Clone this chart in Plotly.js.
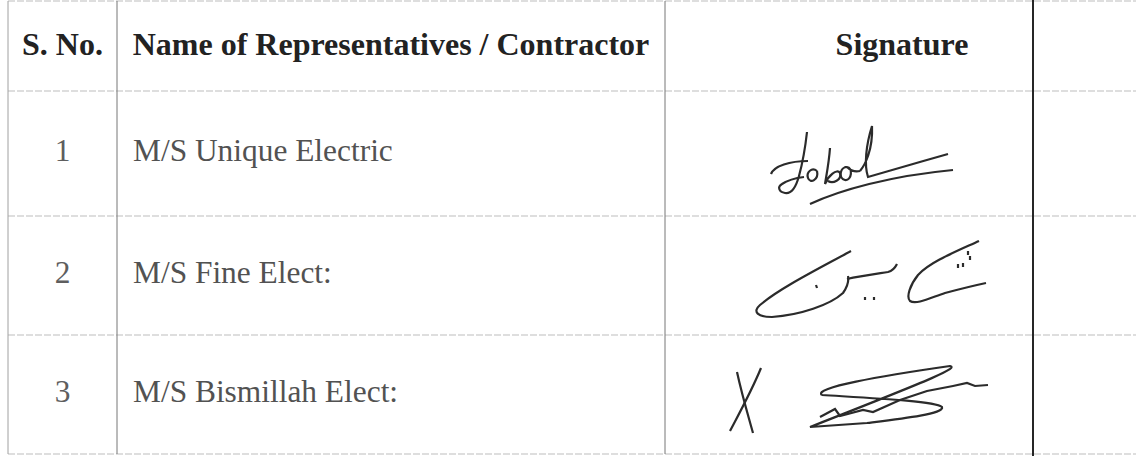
<!DOCTYPE html>
<html><head><meta charset="utf-8">
<script src="https://cdn.plot.ly/plotly-3.0.1.min.js"></script>
<style>html,body{margin:0;padding:0;background:#fff;} #chart{width:1136px;height:456px;}</style>
</head><body><div id="chart"></div>
<script>
// ---- table content ----
const headers = ['S. No.', 'Name of Representatives / Contractor', 'Signature'];
const serialNos = ['1', '2', '3'];
const contractors = ['M/S Unique Electric', 'M/S Fine Elect:', 'M/S Bismillah Elect:'];

// ---- layout geometry (pixels) ----
const colEdges = [8, 117, 665, 1033];
const rowEdges = [1, 91, 216, 335, 454];
const headerX = [62.5, 391, 902];
const nameX = 133;

// ---- handwritten signature strokes (decoration) ----
const signatureStrokes = [
  // row 1
  'M807,132 C805,150 802,165 799,176 C796,187 791,194 785,193 C779,192 777,187 782,184 C788,180 796,178 804,177',
  'M771,174 C774,166 790,161 808,161',
  'M817,171 C812,167 806,172 808,178 C810,184 819,180 817,171',
  'M830,148 C829,162 827,172 825,184 C828,176 837,168 840,173 C842,180 833,184 828,181',
  'M847,167 C840,167 838,178 845,180 C852,181 853,167 847,167 C851,171 856,172 860,171',
  'M860,171 C865,165 873,150 872,126 C866,145 864,165 868,177 C885,172 920,162 948,154',
  'M810,204 C840,190 890,176 953,170',
  // row 2
  'M851,251 C820,268 780,288 760,305 C752,312 758,317 772,317 C800,315 830,305 843,293 C848,286 849,281 848,276',
  'M847,279 C860,276 875,274 888,272 C892,271 895,268 897,264',
  'M816,285 L817,288', 'M865,297 L865,300', 'M874,297 L874,300',
  'M979,241 C955,252 930,262 918,275 C910,285 906,297 910,301 C916,305 930,298 945,293 C960,289 972,286 986,283',
  'M958,264 L958,268', 'M963,263 L963,267', 'M968,251 L968,255', 'M970,256 L970,260',
  // row 3
  'M737,372 C742,395 748,415 753,433',
  'M761,368 C752,390 740,412 730,431',
  'M822,395 C812,388 880,376 950,366 C958,368 940,376 810,427 L867,423 C900,419 945,414 942,407 C935,401 870,398 822,395',
  'M820,417 L835,409 L840,416 L863,410 L873,412 L900,400 L927,391 L953,386 L967,383 L975,386 L988,385'
];

const rowCenters = [];
for (let i = 0; i < rowEdges.length - 1; i++) rowCenters.push((rowEdges[i] + rowEdges[i + 1]) / 2);

const serifFont = '"Liberation Serif", "Times New Roman", serif';

const traces = [
  {
    type: 'scatter', mode: 'text',
    x: headerX, y: headers.map(() => rowCenters[0] + 1),
    text: headers, textposition: 'middle center',
    textfont: {family: serifFont, size: 32, color: '#222222', weight: 'bold'},
    hoverinfo: 'skip', cliponaxis: false
  },
  {
    type: 'scatter', mode: 'text',
    x: serialNos.map(() => colEdges[0] + (colEdges[1] - colEdges[0]) / 2),
    y: rowCenters.slice(1),
    text: serialNos, textposition: 'middle center',
    textfont: {family: serifFont, size: 31.4, color: '#5e5e5e'},
    hoverinfo: 'skip', cliponaxis: false
  },
  {
    type: 'scatter', mode: 'text',
    x: contractors.map(() => nameX),
    y: rowCenters.slice(1),
    text: contractors, textposition: 'middle right',
    textfont: {family: serifFont, size: 31.4, color: '#525252'},
    hoverinfo: 'skip', cliponaxis: false
  }
];

const shapes = [];
rowEdges.forEach(y => shapes.push({
  type: 'line', xref: 'x', yref: 'y', x0: colEdges[0], x1: 1136, y0: y, y1: y,
  line: {color: '#bdbdbd', width: 1, dash: '7px,2px'}
}));
colEdges.slice(0, 3).forEach((x, i) => shapes.push({
  type: 'line', xref: 'x', yref: 'y', x0: x, x1: x, y0: rowEdges[0], y1: rowEdges[rowEdges.length - 1],
  line: {color: i === 0 ? '#a0a0a0' : '#777777', width: 1}
}));
shapes.push({
  type: 'line', xref: 'x', yref: 'y', x0: colEdges[3], x1: colEdges[3], y0: 0, y1: 456,
  line: {color: '#262626', width: 2}
});
signatureStrokes.forEach(p => shapes.push({
  type: 'path', xref: 'x', yref: 'y', path: p,
  line: {color: '#2b2b2b', width: 2.2}
}));

const layout = {
  width: 1136, height: 456,
  margin: {l: 0, r: 0, t: 0, b: 0, pad: 0},
  paper_bgcolor: '#ffffff', plot_bgcolor: '#ffffff',
  showlegend: false,
  xaxis: {range: [0, 1136], visible: false, fixedrange: true},
  yaxis: {range: [456, 0], visible: false, fixedrange: true},
  shapes: shapes
};

Plotly.newPlot('chart', traces, layout, {staticPlot: true, displayModeBar: false});
</script>
</body></html>
